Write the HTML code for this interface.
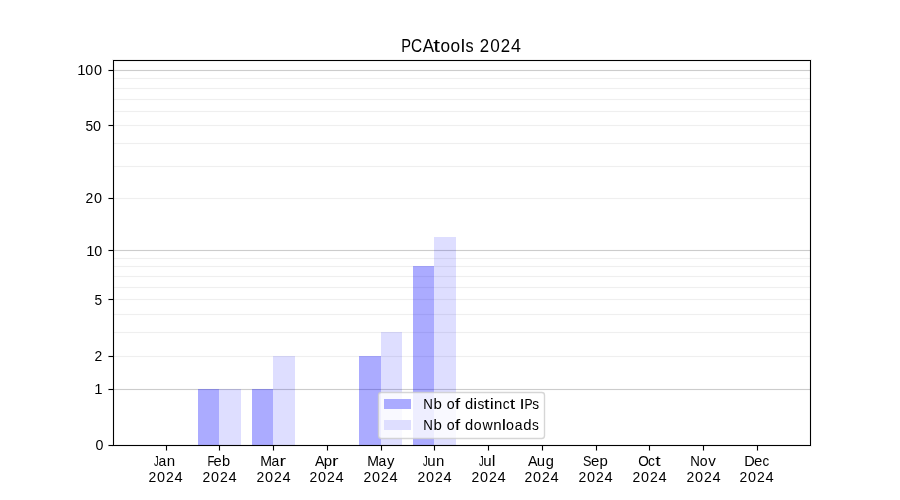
<!DOCTYPE html>
<html lang="en"><head><meta charset="utf-8"><title>PCAtools 2024</title>
<style>html,body{margin:0;padding:0;background:#fff;overflow:hidden;}svg{display:block;will-change:transform;font-family:"Liberation Sans",sans-serif;}text{fill:#000;}</style></head><body>
<svg width="900" height="500" viewBox="0 0 900 500">
<rect x="0" y="0" width="900" height="500" fill="#ffffff"/>
<g shape-rendering="crispEdges" fill="#000">
<rect x="114" y="356" width="696" height="1" fill-opacity="0.06"/><rect x="114" y="355" width="696" height="3" fill-opacity="0.004"/>
<rect x="114" y="332" width="696" height="1" fill-opacity="0.06"/><rect x="114" y="331" width="696" height="3" fill-opacity="0.004"/>
<rect x="114" y="314" width="696" height="1" fill-opacity="0.06"/><rect x="114" y="313" width="696" height="3" fill-opacity="0.004"/>
<rect x="114" y="299" width="696" height="1" fill-opacity="0.06"/><rect x="114" y="298" width="696" height="3" fill-opacity="0.004"/>
<rect x="114" y="287" width="696" height="1" fill-opacity="0.06"/><rect x="114" y="286" width="696" height="3" fill-opacity="0.004"/>
<rect x="114" y="276" width="696" height="1" fill-opacity="0.06"/><rect x="114" y="275" width="696" height="3" fill-opacity="0.004"/>
<rect x="114" y="266" width="696" height="1" fill-opacity="0.06"/><rect x="114" y="265" width="696" height="3" fill-opacity="0.004"/>
<rect x="114" y="258" width="696" height="1" fill-opacity="0.06"/><rect x="114" y="257" width="696" height="3" fill-opacity="0.004"/>
<rect x="114" y="198" width="696" height="1" fill-opacity="0.06"/><rect x="114" y="197" width="696" height="3" fill-opacity="0.004"/>
<rect x="114" y="166" width="696" height="1" fill-opacity="0.06"/><rect x="114" y="165" width="696" height="3" fill-opacity="0.004"/>
<rect x="114" y="143" width="696" height="1" fill-opacity="0.06"/><rect x="114" y="142" width="696" height="3" fill-opacity="0.004"/>
<rect x="114" y="125" width="696" height="1" fill-opacity="0.06"/><rect x="114" y="124" width="696" height="3" fill-opacity="0.004"/>
<rect x="114" y="111" width="696" height="1" fill-opacity="0.06"/><rect x="114" y="110" width="696" height="3" fill-opacity="0.004"/>
<rect x="114" y="99" width="696" height="1" fill-opacity="0.06"/><rect x="114" y="98" width="696" height="3" fill-opacity="0.004"/>
<rect x="114" y="88" width="696" height="1" fill-opacity="0.06"/><rect x="114" y="87" width="696" height="3" fill-opacity="0.004"/>
<rect x="114" y="78" width="696" height="1" fill-opacity="0.06"/><rect x="114" y="77" width="696" height="3" fill-opacity="0.004"/>
<rect x="114" y="389" width="696" height="1" fill-opacity="0.19"/><rect x="114" y="388" width="696" height="3" fill-opacity="0.012"/>
<rect x="114" y="250" width="696" height="1" fill-opacity="0.19"/><rect x="114" y="249" width="696" height="3" fill-opacity="0.012"/>
<rect x="114" y="70" width="696" height="1" fill-opacity="0.19"/><rect x="114" y="69" width="696" height="3" fill-opacity="0.012"/>
</g>
<g shape-rendering="crispEdges" fill="#0000ff">
<rect x="198" y="389" width="21" height="56" fill-opacity="0.33"/>
<rect x="219" y="389" width="22" height="56" fill-opacity="0.13"/>
<rect x="252" y="389" width="21" height="56" fill-opacity="0.33"/>
<rect x="273" y="356" width="22" height="89" fill-opacity="0.13"/>
<rect x="359" y="356" width="22" height="89" fill-opacity="0.33"/>
<rect x="381" y="332" width="21" height="113" fill-opacity="0.13"/>
<rect x="413" y="266" width="21" height="179" fill-opacity="0.33"/>
<rect x="434" y="237" width="22" height="208" fill-opacity="0.13"/>
</g>
<g shape-rendering="crispEdges" fill="#000">
<rect x="109" y="445" width="4" height="1"/><rect x="108" y="445" width="1" height="1" fill-opacity="0.5"/><rect x="108" y="444" width="5" height="3" fill-opacity="0.055"/>
<rect x="109" y="389" width="4" height="1"/><rect x="108" y="389" width="1" height="1" fill-opacity="0.5"/><rect x="108" y="388" width="5" height="3" fill-opacity="0.055"/>
<rect x="109" y="356" width="4" height="1"/><rect x="108" y="356" width="1" height="1" fill-opacity="0.5"/><rect x="108" y="355" width="5" height="3" fill-opacity="0.055"/>
<rect x="109" y="299" width="4" height="1"/><rect x="108" y="299" width="1" height="1" fill-opacity="0.5"/><rect x="108" y="298" width="5" height="3" fill-opacity="0.055"/>
<rect x="109" y="250" width="4" height="1"/><rect x="108" y="250" width="1" height="1" fill-opacity="0.5"/><rect x="108" y="249" width="5" height="3" fill-opacity="0.055"/>
<rect x="109" y="198" width="4" height="1"/><rect x="108" y="198" width="1" height="1" fill-opacity="0.5"/><rect x="108" y="197" width="5" height="3" fill-opacity="0.055"/>
<rect x="109" y="125" width="4" height="1"/><rect x="108" y="125" width="1" height="1" fill-opacity="0.5"/><rect x="108" y="124" width="5" height="3" fill-opacity="0.055"/>
<rect x="109" y="70" width="4" height="1"/><rect x="108" y="70" width="1" height="1" fill-opacity="0.5"/><rect x="108" y="69" width="5" height="3" fill-opacity="0.055"/>
<rect x="166" y="446" width="1" height="4"/><rect x="166" y="450" width="1" height="1" fill-opacity="0.5"/><rect x="165" y="446" width="3" height="5" fill-opacity="0.055"/>
<rect x="219" y="446" width="1" height="4"/><rect x="219" y="450" width="1" height="1" fill-opacity="0.5"/><rect x="218" y="446" width="3" height="5" fill-opacity="0.055"/>
<rect x="273" y="446" width="1" height="4"/><rect x="273" y="450" width="1" height="1" fill-opacity="0.5"/><rect x="272" y="446" width="3" height="5" fill-opacity="0.055"/>
<rect x="327" y="446" width="1" height="4"/><rect x="327" y="450" width="1" height="1" fill-opacity="0.5"/><rect x="326" y="446" width="3" height="5" fill-opacity="0.055"/>
<rect x="381" y="446" width="1" height="4"/><rect x="381" y="450" width="1" height="1" fill-opacity="0.5"/><rect x="380" y="446" width="3" height="5" fill-opacity="0.055"/>
<rect x="434" y="446" width="1" height="4"/><rect x="434" y="450" width="1" height="1" fill-opacity="0.5"/><rect x="433" y="446" width="3" height="5" fill-opacity="0.055"/>
<rect x="488" y="446" width="1" height="4"/><rect x="488" y="450" width="1" height="1" fill-opacity="0.5"/><rect x="487" y="446" width="3" height="5" fill-opacity="0.055"/>
<rect x="542" y="446" width="1" height="4"/><rect x="542" y="450" width="1" height="1" fill-opacity="0.5"/><rect x="541" y="446" width="3" height="5" fill-opacity="0.055"/>
<rect x="596" y="446" width="1" height="4"/><rect x="596" y="450" width="1" height="1" fill-opacity="0.5"/><rect x="595" y="446" width="3" height="5" fill-opacity="0.055"/>
<rect x="649" y="446" width="1" height="4"/><rect x="649" y="450" width="1" height="1" fill-opacity="0.5"/><rect x="648" y="446" width="3" height="5" fill-opacity="0.055"/>
<rect x="703" y="446" width="1" height="4"/><rect x="703" y="450" width="1" height="1" fill-opacity="0.5"/><rect x="702" y="446" width="3" height="5" fill-opacity="0.055"/>
<rect x="757" y="446" width="1" height="4"/><rect x="757" y="450" width="1" height="1" fill-opacity="0.5"/><rect x="756" y="446" width="3" height="5" fill-opacity="0.055"/>
<rect x="113" y="60" width="698" height="1"/><rect x="113" y="445" width="698" height="1"/><rect x="113" y="61" width="1" height="384"/><rect x="810" y="61" width="1" height="384"/>
<rect x="112" y="59" width="700" height="3" fill-opacity="0.055"/><rect x="112" y="444" width="700" height="3" fill-opacity="0.055"/><rect x="112" y="62" width="3" height="382" fill-opacity="0.055"/><rect x="809" y="62" width="3" height="382" fill-opacity="0.055"/>
</g>
<g>
<text y="75.00" font-size="14.40"><tspan x="77.29" textLength="8.29" lengthAdjust="spacingAndGlyphs">1</tspan><tspan x="85.24" textLength="7.97" lengthAdjust="spacingAndGlyphs">0</tspan><tspan x="93.96" textLength="8.03" lengthAdjust="spacingAndGlyphs">0</tspan></text>
<text y="131.00" font-size="14.40"><tspan x="85.61" textLength="7.62" lengthAdjust="spacingAndGlyphs">5</tspan><tspan x="93.08" textLength="8.02" lengthAdjust="spacingAndGlyphs">0</tspan></text>
<text y="203.00" font-size="14.40"><tspan x="85.44" textLength="7.74" lengthAdjust="spacingAndGlyphs">2</tspan><tspan x="94.08" textLength="8.02" lengthAdjust="spacingAndGlyphs">0</tspan></text>
<text y="256.00" font-size="14.40"><tspan x="86.29" textLength="8.29" lengthAdjust="spacingAndGlyphs">1</tspan><tspan x="94.24" textLength="7.97" lengthAdjust="spacingAndGlyphs">0</tspan></text>
<text y="305.00" font-size="14.40"><tspan x="94.61" textLength="7.62" lengthAdjust="spacingAndGlyphs">5</tspan></text>
<text y="361.00" font-size="14.40"><tspan x="94.44" textLength="7.74" lengthAdjust="spacingAndGlyphs">2</tspan></text>
<text y="394.00" font-size="14.40"><tspan x="94.29" textLength="8.29" lengthAdjust="spacingAndGlyphs">1</tspan></text>
<text y="450.00" font-size="14.40"><tspan x="95.40" textLength="7.92" lengthAdjust="spacingAndGlyphs">0</tspan></text>
<text y="466.00" font-size="15.00"><tspan x="153.97" textLength="4.65" lengthAdjust="spacingAndGlyphs">J</tspan><tspan x="158.43" textLength="7.75" lengthAdjust="spacingAndGlyphs">a</tspan><tspan x="166.77" textLength="8.39" lengthAdjust="spacingAndGlyphs">n</tspan></text>
<text y="482.00" font-size="14.40"><tspan x="148.44" textLength="7.74" lengthAdjust="spacingAndGlyphs">2</tspan><tspan x="157.08" textLength="8.02" lengthAdjust="spacingAndGlyphs">0</tspan><tspan x="165.89" textLength="7.81" lengthAdjust="spacingAndGlyphs">2</tspan><tspan x="174.50" textLength="8.19" lengthAdjust="spacingAndGlyphs">4</tspan></text>
<text y="466.00" font-size="15.00"><tspan x="207.40" textLength="6.91" lengthAdjust="spacingAndGlyphs">F</tspan><tspan x="213.51" textLength="8.18" lengthAdjust="spacingAndGlyphs">e</tspan><tspan x="222.05" textLength="8.11" lengthAdjust="spacingAndGlyphs">b</tspan></text>
<text y="482.00" font-size="14.40"><tspan x="202.44" textLength="7.74" lengthAdjust="spacingAndGlyphs">2</tspan><tspan x="211.08" textLength="8.02" lengthAdjust="spacingAndGlyphs">0</tspan><tspan x="219.89" textLength="7.81" lengthAdjust="spacingAndGlyphs">2</tspan><tspan x="228.50" textLength="8.19" lengthAdjust="spacingAndGlyphs">4</tspan></text>
<text y="466.00" font-size="15.00"><tspan x="260.13" textLength="11.73" lengthAdjust="spacingAndGlyphs">M</tspan><tspan x="271.43" textLength="7.75" lengthAdjust="spacingAndGlyphs">a</tspan><tspan x="279.41" textLength="6.49" lengthAdjust="spacingAndGlyphs">r</tspan></text>
<text y="482.00" font-size="14.40"><tspan x="256.44" textLength="7.74" lengthAdjust="spacingAndGlyphs">2</tspan><tspan x="265.08" textLength="8.02" lengthAdjust="spacingAndGlyphs">0</tspan><tspan x="273.89" textLength="7.81" lengthAdjust="spacingAndGlyphs">2</tspan><tspan x="282.50" textLength="8.19" lengthAdjust="spacingAndGlyphs">4</tspan></text>
<text y="466.00" font-size="15.00"><tspan x="314.98" textLength="9.48" lengthAdjust="spacingAndGlyphs">A</tspan><tspan x="323.66" textLength="8.33" lengthAdjust="spacingAndGlyphs">p</tspan><tspan x="332.09" textLength="6.49" lengthAdjust="spacingAndGlyphs">r</tspan></text>
<text y="482.00" font-size="14.40"><tspan x="309.44" textLength="7.74" lengthAdjust="spacingAndGlyphs">2</tspan><tspan x="318.08" textLength="8.02" lengthAdjust="spacingAndGlyphs">0</tspan><tspan x="326.89" textLength="7.81" lengthAdjust="spacingAndGlyphs">2</tspan><tspan x="335.50" textLength="8.19" lengthAdjust="spacingAndGlyphs">4</tspan></text>
<text y="466.00" font-size="15.00"><tspan x="367.13" textLength="11.73" lengthAdjust="spacingAndGlyphs">M</tspan><tspan x="378.43" textLength="7.75" lengthAdjust="spacingAndGlyphs">a</tspan><tspan x="387.07" textLength="7.45" lengthAdjust="spacingAndGlyphs">y</tspan></text>
<text y="482.00" font-size="14.40"><tspan x="363.44" textLength="7.74" lengthAdjust="spacingAndGlyphs">2</tspan><tspan x="372.08" textLength="8.02" lengthAdjust="spacingAndGlyphs">0</tspan><tspan x="380.89" textLength="7.81" lengthAdjust="spacingAndGlyphs">2</tspan><tspan x="389.50" textLength="8.19" lengthAdjust="spacingAndGlyphs">4</tspan></text>
<text y="466.00" font-size="15.00"><tspan x="422.97" textLength="4.65" lengthAdjust="spacingAndGlyphs">J</tspan><tspan x="427.27" textLength="8.38" lengthAdjust="spacingAndGlyphs">u</tspan><tspan x="435.97" textLength="8.31" lengthAdjust="spacingAndGlyphs">n</tspan></text>
<text y="482.00" font-size="14.40"><tspan x="417.44" textLength="7.74" lengthAdjust="spacingAndGlyphs">2</tspan><tspan x="426.08" textLength="8.02" lengthAdjust="spacingAndGlyphs">0</tspan><tspan x="434.89" textLength="7.81" lengthAdjust="spacingAndGlyphs">2</tspan><tspan x="443.50" textLength="8.19" lengthAdjust="spacingAndGlyphs">4</tspan></text>
<text y="466.00" font-size="15.00"><tspan x="478.97" textLength="4.65" lengthAdjust="spacingAndGlyphs">J</tspan><tspan x="483.27" textLength="8.38" lengthAdjust="spacingAndGlyphs">u</tspan><tspan x="491.87" textLength="3.73" lengthAdjust="spacingAndGlyphs">l</tspan></text>
<text y="482.00" font-size="14.40"><tspan x="471.44" textLength="7.74" lengthAdjust="spacingAndGlyphs">2</tspan><tspan x="480.08" textLength="8.02" lengthAdjust="spacingAndGlyphs">0</tspan><tspan x="488.89" textLength="7.81" lengthAdjust="spacingAndGlyphs">2</tspan><tspan x="497.50" textLength="8.19" lengthAdjust="spacingAndGlyphs">4</tspan></text>
<text y="466.00" font-size="15.00"><tspan x="527.98" textLength="9.48" lengthAdjust="spacingAndGlyphs">A</tspan><tspan x="536.72" textLength="8.31" lengthAdjust="spacingAndGlyphs">u</tspan><tspan x="545.66" textLength="8.15" lengthAdjust="spacingAndGlyphs">g</tspan></text>
<text y="482.00" font-size="14.40"><tspan x="524.44" textLength="7.74" lengthAdjust="spacingAndGlyphs">2</tspan><tspan x="533.08" textLength="8.02" lengthAdjust="spacingAndGlyphs">0</tspan><tspan x="541.89" textLength="7.81" lengthAdjust="spacingAndGlyphs">2</tspan><tspan x="550.50" textLength="8.19" lengthAdjust="spacingAndGlyphs">4</tspan></text>
<text y="466.00" font-size="15.00"><tspan x="583.08" textLength="8.42" lengthAdjust="spacingAndGlyphs">S</tspan><tspan x="590.95" textLength="8.30" lengthAdjust="spacingAndGlyphs">e</tspan><tspan x="599.40" textLength="8.32" lengthAdjust="spacingAndGlyphs">p</tspan></text>
<text y="482.00" font-size="14.40"><tspan x="578.44" textLength="7.74" lengthAdjust="spacingAndGlyphs">2</tspan><tspan x="587.08" textLength="8.02" lengthAdjust="spacingAndGlyphs">0</tspan><tspan x="595.89" textLength="7.81" lengthAdjust="spacingAndGlyphs">2</tspan><tspan x="604.50" textLength="8.19" lengthAdjust="spacingAndGlyphs">4</tspan></text>
<text y="466.00" font-size="15.00"><tspan x="638.18" textLength="10.54" lengthAdjust="spacingAndGlyphs">O</tspan><tspan x="648.07" textLength="6.86" lengthAdjust="spacingAndGlyphs">c</tspan><tspan x="655.28" textLength="5.42" lengthAdjust="spacingAndGlyphs">t</tspan></text>
<text y="482.00" font-size="14.40"><tspan x="632.44" textLength="7.74" lengthAdjust="spacingAndGlyphs">2</tspan><tspan x="641.08" textLength="8.02" lengthAdjust="spacingAndGlyphs">0</tspan><tspan x="649.89" textLength="7.81" lengthAdjust="spacingAndGlyphs">2</tspan><tspan x="658.50" textLength="8.19" lengthAdjust="spacingAndGlyphs">4</tspan></text>
<text y="466.00" font-size="15.00"><tspan x="690.35" textLength="9.59" lengthAdjust="spacingAndGlyphs">N</tspan><tspan x="699.66" textLength="7.83" lengthAdjust="spacingAndGlyphs">o</tspan><tspan x="708.22" textLength="7.58" lengthAdjust="spacingAndGlyphs">v</tspan></text>
<text y="482.00" font-size="14.40"><tspan x="686.44" textLength="7.74" lengthAdjust="spacingAndGlyphs">2</tspan><tspan x="695.08" textLength="8.02" lengthAdjust="spacingAndGlyphs">0</tspan><tspan x="703.89" textLength="7.81" lengthAdjust="spacingAndGlyphs">2</tspan><tspan x="712.50" textLength="8.19" lengthAdjust="spacingAndGlyphs">4</tspan></text>
<text y="466.00" font-size="15.00"><tspan x="744.23" textLength="10.47" lengthAdjust="spacingAndGlyphs">D</tspan><tspan x="753.95" textLength="8.30" lengthAdjust="spacingAndGlyphs">e</tspan><tspan x="762.50" textLength="6.70" lengthAdjust="spacingAndGlyphs">c</tspan></text>
<text y="482.00" font-size="14.40"><tspan x="739.44" textLength="7.74" lengthAdjust="spacingAndGlyphs">2</tspan><tspan x="748.08" textLength="8.02" lengthAdjust="spacingAndGlyphs">0</tspan><tspan x="756.89" textLength="7.81" lengthAdjust="spacingAndGlyphs">2</tspan><tspan x="765.50" textLength="8.19" lengthAdjust="spacingAndGlyphs">4</tspan></text>
<text y="52.00" font-size="18.80"><tspan x="401.37" textLength="9.78" lengthAdjust="spacingAndGlyphs">P</tspan><tspan x="411.10" textLength="11.16" lengthAdjust="spacingAndGlyphs">C</tspan><tspan x="422.65" textLength="11.28" lengthAdjust="spacingAndGlyphs">A</tspan><tspan x="433.36" textLength="6.79" lengthAdjust="spacingAndGlyphs">t</tspan><tspan x="440.49" textLength="9.56" lengthAdjust="spacingAndGlyphs">o</tspan><tspan x="450.60" textLength="9.60" lengthAdjust="spacingAndGlyphs">o</tspan><tspan x="460.76" textLength="4.31" lengthAdjust="spacingAndGlyphs">l</tspan><tspan x="465.38" textLength="8.10" lengthAdjust="spacingAndGlyphs">s</tspan><tspan> </tspan><tspan x="479.70" textLength="9.35" lengthAdjust="spacingAndGlyphs">2</tspan><tspan x="490.27" textLength="9.53" lengthAdjust="spacingAndGlyphs">0</tspan><tspan x="500.82" textLength="9.35" lengthAdjust="spacingAndGlyphs">2</tspan><tspan x="511.02" textLength="9.95" lengthAdjust="spacingAndGlyphs">4</tspan></text>
</g>
<rect x="378.5" y="392.5" width="166" height="46" rx="2.8" ry="2.8" fill="#ffffff" fill-opacity="0.8" stroke="#cccccc" stroke-opacity="0.8" stroke-width="1.39"/>
<g shape-rendering="crispEdges"><rect x="384" y="399" width="27" height="10" fill="#ababff"/><rect x="384" y="420" width="27" height="10" fill="#dedeff"/></g>
<g>
<text y="409.00" font-size="15.20"><tspan x="423.35" textLength="9.59" lengthAdjust="spacingAndGlyphs">N</tspan><tspan x="433.50" textLength="8.36" lengthAdjust="spacingAndGlyphs">b</tspan><tspan> </tspan><tspan x="446.87" textLength="7.92" lengthAdjust="spacingAndGlyphs">o</tspan><tspan x="454.79" textLength="5.49" lengthAdjust="spacingAndGlyphs">f</tspan><tspan> </tspan><tspan x="464.89" textLength="8.17" lengthAdjust="spacingAndGlyphs">d</tspan><tspan x="473.24" textLength="3.95" lengthAdjust="spacingAndGlyphs">i</tspan><tspan x="477.38" textLength="6.79" lengthAdjust="spacingAndGlyphs">s</tspan><tspan x="484.10" textLength="5.49" lengthAdjust="spacingAndGlyphs">t</tspan><tspan x="489.78" textLength="4.12" lengthAdjust="spacingAndGlyphs">i</tspan><tspan x="493.97" textLength="8.31" lengthAdjust="spacingAndGlyphs">n</tspan><tspan x="502.68" textLength="6.86" lengthAdjust="spacingAndGlyphs">c</tspan><tspan x="509.87" textLength="5.49" lengthAdjust="spacingAndGlyphs">t</tspan><tspan> </tspan><tspan x="519.45" textLength="5.14" lengthAdjust="spacingAndGlyphs">I</tspan><tspan x="524.40" textLength="8.08" lengthAdjust="spacingAndGlyphs">P</tspan><tspan x="532.24" textLength="6.81" lengthAdjust="spacingAndGlyphs">s</tspan></text>
<text y="430.00" font-size="15.20"><tspan x="423.35" textLength="9.59" lengthAdjust="spacingAndGlyphs">N</tspan><tspan x="433.50" textLength="8.36" lengthAdjust="spacingAndGlyphs">b</tspan><tspan> </tspan><tspan x="446.87" textLength="7.92" lengthAdjust="spacingAndGlyphs">o</tspan><tspan x="454.79" textLength="5.49" lengthAdjust="spacingAndGlyphs">f</tspan><tspan> </tspan><tspan x="464.89" textLength="8.17" lengthAdjust="spacingAndGlyphs">d</tspan><tspan x="473.66" textLength="7.83" lengthAdjust="spacingAndGlyphs">o</tspan><tspan x="482.44" textLength="10.23" lengthAdjust="spacingAndGlyphs">w</tspan><tspan x="493.35" textLength="8.38" lengthAdjust="spacingAndGlyphs">n</tspan><tspan x="501.76" textLength="4.33" lengthAdjust="spacingAndGlyphs">l</tspan><tspan x="506.12" textLength="7.94" lengthAdjust="spacingAndGlyphs">o</tspan><tspan x="514.79" textLength="7.74" lengthAdjust="spacingAndGlyphs">a</tspan><tspan x="523.37" textLength="8.28" lengthAdjust="spacingAndGlyphs">d</tspan><tspan x="531.96" textLength="6.84" lengthAdjust="spacingAndGlyphs">s</tspan></text>
</g>
</svg></body></html>
